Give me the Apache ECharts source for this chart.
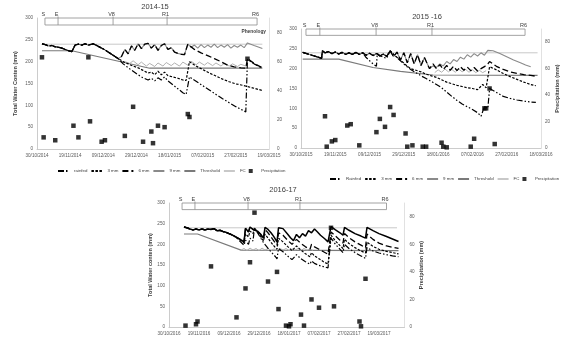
<!DOCTYPE html>
<html><head><meta charset="utf-8">
<script src="https://cdn.jsdelivr.net/npm/echarts@6/dist/echarts.min.js"></script>
<style>html,body{margin:0;padding:0;background:#fff}#c{width:566px;height:342px}</style>
</head><body><div id="c"></div>
<script>
// ---------- tick labels ----------
const dates1 = ['30/10/2014','19/11/2014','09/12/2014','29/12/2014','18/01/2015','07/02/2015','27/02/2015','19/03/2015'];
const dates2 = ['30/10/2015','19/11/2015','09/12/2015','29/12/2015','18/01/2016','07/02/2016','27/02/2016','18/03/2016'];
const dates3 = ['30/10/2016','19/11/2016','09/12/2016','29/12/2016','18/01/2017','07/02/2017','27/02/2017','19/03/2017'];
const titles = ['2014-15', '2015 -16', '2016-17'];
// phenology stages [label, day since 30/10]
const pheno1 = [['S',4.8],['E',12.7],['V8',45.9],['R1',78.5],['R6',132.8]];
const pheno2 = [['S',2.9],['E',11],['V8',43.8],['R1',76.4],['R6',130.7]];
const pheno3 = [['S',8.7],['E',17.3],['V8',52.7],['R1',87.3],['R6',145]];

// ---------- 2014-15 (x = days since 30/10/2014, y = mm) ----------
const common1 = [[3,241],[5,239],[7,236],[9,237],[11,234],[13,233],[15,231],[17,228],[19,225],[21,223],[23,238],[25,240],[27,238],[29,241],[31,238],[34,241],[37,235],[41,227],[45,217],[49,207]];
const upper1 = [[51,212],[53,228],[55,218],[57,236],[59,226],[61,241],[63,230],[65,240],[67,242],[69,231],[71,239],[73,226],[75,237],[77,241],[79,228],[81,232],[83,222],[85,219],[87,217],[89,216],[91,240]];
const mm9tail1 = [[93,233],[95,238],[97,231],[99,239],[101,232],[103,238],[105,233],[107,240],[109,232],[111,238],[113,233],[115,239],[117,231],[119,237],[121,233],[123,238],[125,232],[127,243],[131,237],[136,230]];
const mm6tail1 = [[95,228],[99,220],[103,214],[107,207],[111,200],[115,192],[119,188],[123,186],[126,185],[127,207],[131,196],[136,186]];
const mm3tail1 = [[52,200],[55,195],[58,190],[61,186],[64,180],[67,174],[69,176],[71,170],[73,178],[75,170],[77,176],[79,168],[82,165],[85,162],[88,158],[90,157],[92,200],[96,190],[100,182],[104,174],[108,167],[112,160],[116,154],[120,149],[124,146],[127,143],[130,140],[136,134]];
const rainfedtail1 = [[52,195],[55,186],[58,178],[61,170],[64,163],[67,158],[69,162],[71,156],[73,163],[75,158],[77,165],[79,156],[82,147],[85,138],[88,129],[90,125],[92,165],[96,155],[100,145],[104,135],[108,125],[112,115],[116,106],[120,97],[124,89],[126,85],[127,205],[131,195],[136,185]];
const thr1 = [[3,225],[21,225],[68,185],[136,185]];
const thrJag1 = [[53,200],[56,196],[58,202],[61,193],[63,199],[66,190],[68,196],[71,189],[73,197],[76,190],[78,198],[81,191],[83,197],[86,190],[88,199],[91,192],[93,201],[96,193],[98,199],[101,192],[103,198],[106,191],[108,197],[111,190],[113,196],[116,190],[118,195],[121,189],[123,194],[126,190]];
const fc1 = [[3,240],[136,240]];
const precip1 = [[3,63],[4,8],[11,6],[22,16],[25,8],[31,63],[32,19],[39,5],[41,6],[53,9],[58,29],[64,5],[69,12],[70,4],[73,16],[77,15],[91,24],[92,22],[127,62]];

// ---------- 2015-16 ----------
const commonA2 = [[1,241],[4,237],[7,233],[10,229],[12,226],[12.5,245],[14,240],[16,243],[18,238],[20,242],[22,237],[24,241],[26,236],[28,240],[30,236],[32,241],[34,236],[36,240]];
const commonB2 = [[38,234],[40,239],[42,233],[44,238],[46,232],[48,237],[50,231],[52,245]];
const upper2 = [[54,230],[56,242],[58,222],[60,240],[62,215],[64,238],[66,212],[68,235],[70,208],[72,228],[75,200]];
const mm9tail2 = [[77,207],[79,203],[81,212],[83,207],[85,218],[87,212],[89,223],[91,218],[93,229],[95,224],[97,235],[99,229],[101,238],[103,232],[105,240],[107,234],[109,246],[112,245],[116,238],[120,230],[124,222],[128,215],[131,209],[134,205]];
const mm6tail2 = [[77,212],[79,200],[81,210],[83,198],[85,208],[87,196],[89,206],[91,195],[93,205],[95,196],[97,204],[99,195],[101,203],[103,194],[105,200],[107,205],[109,212],[110,218],[114,206],[118,198],[122,192],[126,188],[130,185],[134,183],[137,181]];
const mm3tail2 = [[55,232],[58,222],[61,210],[64,200],[67,196],[70,192],[73,186],[76,182],[79,178],[82,172],[85,166],[88,162],[91,158],[94,155],[97,152],[100,150],[103,147],[104,145],[106,160],[108,152],[110,205],[114,197],[118,188],[122,180],[126,173],[130,166],[134,160],[137,157]];
const rainfedtail2 = [[38,228],[40,220],[42,212],[44,206],[44.5,238],[46,233],[48,229],[50,226],[52,245],[55,232],[58,220],[61,208],[64,198],[67,190],[70,182],[73,175],[76,168],[79,160],[82,152],[85,141],[88,130],[91,120],[94,111],[97,104],[100,97],[103,89],[105,80],[107,104],[109,100],[110,150],[114,140],[118,130],[122,125],[126,121],[130,118],[134,116],[137,115]];
const thr2 = [[1,224],[22,224],[42,203],[58,193],[77,184],[138,183]];
const thrJag2 = [[78,190],[80,197],[82,191],[84,199],[86,192],[88,198],[90,191],[92,199],[94,192],[96,198],[98,191],[100,197],[102,190],[104,196],[106,190],[108,195]];
const fc2 = [[1,240],[138,240]];
const precip2 = [[14,24],[15,1],[18,5],[20,6],[27,17],[29,18],[34,2],[44,12],[46,22],[49,16],[52,31],[54,25],[61,11],[62,1],[65,2],[71,1],[73,1],[82,4],[83,1],[85,0.5],[99,1],[101,7],[107,30],[108,30],[110,45],[113,3]];

// ---------- 2016-17 ----------
const common3 = [[10,242],[12,240],[14,237],[16,235],[18,237],[20,235],[22,237],[24,235],[26,237],[28,236],[30,238],[32,233],[34,234],[36,231],[38,229],[40,226],[42,223],[44,219]];
const mm9tail3 = [[46,215],[48,211],[50,206],[51,239],[53,230],[54,242],[56,236],[57,240],[59,232],[61,225],[63,215],[64,241],[66,236],[68,228],[70,218],[72,206],[73,240],[76,238],[79,225],[81,216],[83,209],[85,224],[87,216],[89,226],[91,220],[93,233],[95,228],[97,237],[99,230],[101,222],[104,213],[106,206],[108,243],[111,235],[114,228],[116,222],[117,241],[120,234],[124,226],[128,220],[131,215],[132,241],[136,233],[140,226],[145,219],[149,213],[153,207]];
const mm6tail3 = [[46,215],[48,211],[50,206],[51,239],[53,230],[54,242],[56,236],[57,240],[59,232],[61,224],[63,214],[64,236],[66,228],[68,218],[70,208],[72,198],[73,228],[76,222],[79,210],[82,200],[85,212],[88,202],[91,194],[94,188],[95,200],[97,194],[100,188],[103,182],[106,176],[108,230],[111,220],[114,210],[116,203],[117,226],[120,216],[124,206],[128,198],[131,192],[132,225],[136,212],[140,203],[145,196],[149,193],[153,190]];
const mm3tail3 = [[46,214],[48,209],[50,203],[51,225],[53,218],[54,232],[56,226],[57,240],[59,230],[61,220],[63,208],[64,225],[66,215],[68,205],[70,196],[72,188],[73,215],[76,206],[79,195],[82,185],[85,196],[88,186],[91,177],[94,170],[95,180],[97,172],[100,165],[103,158],[106,152],[108,222],[111,208],[114,197],[116,190],[117,212],[120,202],[124,192],[128,184],[131,179],[132,205],[136,195],[140,188],[145,183],[149,180],[153,177]];
const rainfedtail3 = [[46,212],[48,205],[50,198],[51,210],[53,200],[54,215],[56,208],[57,240],[59,228],[61,216],[63,204],[65,195],[67,186],[69,178],[71,170],[72,165],[73,190],[76,182],[79,172],[82,163],[85,175],[88,165],[91,158],[94,152],[95,160],[97,154],[100,149],[103,146],[106,143],[108,215],[111,200],[114,188],[116,180],[117,200],[120,190],[124,180],[128,172],[131,166],[132,192],[136,184],[140,179],[145,175],[149,172],[153,170]];
const thr3 = [[10,225],[19,225],[48,186],[153,185]];
const thrJag3 = [[48,186],[50,190],[52,185],[54,191],[56,186],[58,190],[60,185],[62,191],[64,186],[66,190],[68,185],[70,189],[72,184],[74,190],[76,186],[78,190],[80,185],[82,189],[84,186],[86,190],[88,185],[90,190],[92,186],[94,189],[96,185]];
const fc3 = [[10,240],[152,240]];
const precip3 = [[11,1],[18,2],[19,4],[28,44],[45,7],[51,28],[54,47],[57,83],[66,33],[72,40],[73,13],[78,1],[80,0.5],[81,2],[88,9],[90,1],[95,20],[100,14],[108,72],[110,15],[127,4],[128,0.5],[131,35]];

// ---------- chart ----------
const FONT = 'Liberation Sans';
const panels = [
  {dates: dates1, xmax: 140, pheno: pheno1, rainfedName: 'rainfed',
   grid: {left: 37, top: 18, width: 232, height: 131}, rMargin: 8, rName: '',
   lines: {rainfed: common1.concat(rainfedtail1), mm3: common1.concat(mm3tail1), mm6: common1.concat(upper1, mm6tail1), mm9: common1.concat(upper1, mm9tail1),
           thr: thr1, thrJag: thrJag1, fc: fc1, precip: precip1}, mm9color: '#8a8a8a', mm9w: 1.1},
  {dates: dates2, xmax: 140, pheno: pheno2, rainfedName: 'Rainfed',
   grid: {left: 301, top: 29, width: 240, height: 119}, rMargin: 4, rName: 'Precipitation (mm)', rGap: 13,
   lines: {rainfed: commonA2.concat(rainfedtail2), mm3: commonA2.concat(commonB2, mm3tail2), mm6: commonA2.concat(commonB2, upper2, mm6tail2), mm9: commonA2.concat(commonB2, upper2, mm9tail2),
           thr: thr2, thrJag: thrJag2, fc: fc2, precip: precip2}, mm9color: '#8a8a8a', mm9w: 1.1},
  {dates: dates3, xmax: 157, pheno: pheno3, rainfedName: 'Rainfed',
   grid: {left: 169, top: 203, width: 235.5, height: 124}, rMargin: 5, rName: 'Precipitation (mm)', rGap: 11,
   lines: {rainfed: common3.concat(rainfedtail3), mm3: common3.concat(mm3tail3), mm6: common3.concat(mm6tail3), mm9: common3.concat(mm9tail3),
           thr: thr3, thrJag: thrJag3, fc: fc3, precip: precip3}, mm9color: '#000', mm9w: 1.5}
];

const grids = [], xAxes = [], yAxes = [], series = [];
panels.forEach((p, i) => {
  grids.push(Object.assign({containLabel: false}, p.grid));
  xAxes.push({type: 'value', gridIndex: i, min: 0, max: p.xmax, interval: 20,
    axisLine: {lineStyle: {color: '#bfbfbf', width: 0.8}}, axisTick: {show: false}, splitLine: {show: false},
    axisLabel: {fontSize: 4.6, color: '#595959', fontFamily: FONT, margin: 4, showMaxLabel: p.xmax === 140,
      formatter: v => (v % 20 === 0 && p.dates[v / 20]) ? p.dates[v / 20] : ''}});
  yAxes.push({type: 'value', gridIndex: i, min: 0, max: 300, interval: 50, position: 'left',
    name: i === 1 ? '' : (i === 0 ? 'Total Water Conten (mm)' : 'Total Water conten (mm)'),
    nameLocation: 'middle', nameGap: i === 0 ? 19 : 15, nameRotate: 90,
    nameTextStyle: {fontSize: 5.5, fontWeight: 'bold', color: '#404040', fontFamily: FONT},
    axisLine: {show: true, lineStyle: {color: '#bfbfbf', width: 0.8}}, axisTick: {show: false}, splitLine: {show: false},
    axisLabel: {fontSize: 4.6, color: '#595959', fontFamily: FONT, margin: 4}});
  yAxes.push({type: 'value', gridIndex: i, min: 0, max: 90, interval: 20, position: 'right',
    name: p.rName, nameLocation: 'middle', nameGap: p.rGap || 10, nameRotate: 90,
    nameTextStyle: {fontSize: 5.5, fontWeight: 'bold', color: '#404040', fontFamily: FONT},
    axisLine: {show: true, lineStyle: {color: '#d9d9d9', width: 0.8}}, axisTick: {show: false}, splitLine: {show: false},
    axisLabel: {fontSize: 4.6, color: '#595959', fontFamily: FONT, margin: p.rMargin, showMaxLabel: false,
      formatter: v => (v % 20 === 0 ? v : '')}});
  const L = p.lines;
  const base = {type: 'line', xAxisIndex: i, yAxisIndex: 2 * i, symbol: 'none', silent: true, animation: false};
  const mk = (name, data, z, ls) => Object.assign({}, base, {name, data, z, lineStyle: ls, itemStyle: {color: ls.color}, color: ls.color});
  series.push(mk('FC', L.fc, 2, {color: '#c8c8c8', width: 1}));
  series.push(mk('Threshold', L.thr, 3, {color: '#7a7a7a', width: 1.2}));
  series.push(mk('Threshold', L.thrJag, 3, {color: '#a8a8a8', width: 0.9}));
  series.push(mk('9 mm', L.mm9, 4, {color: p.mm9color, width: p.mm9w}));
  series.push(mk('6 mm', L.mm6, 5, {color: '#000', width: 1.3, type: [6, 3]}));
  series.push(mk('3 mm', L.mm3, 5, {color: '#000', width: 1.2, type: [2.5, 1.5]}));
  series.push(mk(p.rainfedName, L.rainfed, 5, {color: '#000', width: 1.2, type: [6, 2, 1.5, 2, 1.5, 2]}));
  series.push({type: 'scatter', name: 'Precipitation', xAxisIndex: i, yAxisIndex: 2 * i + 1, data: L.precip,
    symbol: 'rect', symbolSize: 4.5, itemStyle: {color: '#000'}, color: '#000', z: 6, silent: true, animation: false});
  const stages = p.pheno;
  series.push({type: 'custom', xAxisIndex: i, yAxisIndex: 2 * i, silent: true, clip: false, z: 7, animation: false,
    data: [[stages[0][1], 300]],
    renderItem: (params, api) => {
      const top = api.coord([0, 300])[1], bot = api.coord([0, 284])[1];
      const xs = stages.map(s => api.coord([s[1], 0])[0]);
      const ch = [{type: 'rect', shape: {x: xs[0], y: top, width: xs[xs.length - 1] - xs[0], height: bot - top},
        style: {fill: '#fff', stroke: '#8c8c8c', lineWidth: 0.8}}];
      stages.forEach((s, k) => {
        if (k > 0 && k < stages.length - 1) ch.push({type: 'line', shape: {x1: xs[k], y1: top - 1.5, x2: xs[k], y2: bot}, style: {stroke: '#8c8c8c', lineWidth: 0.8}});
        ch.push({type: 'text', style: {x: xs[k] - 1.5, y: top - 1, text: s[0], textAlign: 'center', textVerticalAlign: 'bottom',
          fontSize: 5.5, fill: '#404040', fontFamily: FONT}});
      });
      return {type: 'group', children: ch};
    }});
});

const legendItems1 = ['rainfed', '3 mm', '6 mm', '9 mm', 'Threshold', 'FC', 'Precipitation'];
const legendItems2 = ['Rainfed', '3 mm', '6 mm', '9 mm', 'Threshold', 'FC', 'Precipitation'];
const legendData = names => names.map(n => n === 'Precipitation'
  ? {name: n, icon: 'path://M0,0h10v10h-10z'}
  : {name: n, itemStyle: {opacity: 0}});
const legendBase = {orient: 'horizontal', itemWidth: 11, itemHeight: 4, itemGap: 3, selectedMode: false, width: 260,
  textStyle: {fontSize: 4.4, color: '#404040', fontFamily: FONT}};

const chart = echarts.init(document.getElementById('c'), null, {renderer: 'canvas'});
chart.setOption({
  backgroundColor: '#fff',
  animation: false,
  grid: grids, xAxis: xAxes, yAxis: yAxes, series: series,
  legend: [
    Object.assign({}, legendBase, {left: 52, top: 164, data: legendData(legendItems1)}),
    Object.assign({}, legendBase, {left: 324, top: 172, data: legendData(legendItems2)})
  ],
  graphic: [
    {type: 'text', x: 155, y: 7, style: {text: titles[0], textAlign: 'center', textVerticalAlign: 'middle', fontSize: 7.5, fill: '#404040', fontFamily: FONT}},
    {type: 'text', x: 427, y: 17, style: {text: titles[1], textAlign: 'center', textVerticalAlign: 'middle', fontSize: 7.5, fill: '#404040', fontFamily: FONT}},
    {type: 'text', x: 283, y: 190, style: {text: titles[2], textAlign: 'center', textVerticalAlign: 'middle', fontSize: 7.5, fill: '#404040', fontFamily: FONT}},
    {type: 'text', x: 266, y: 32, style: {text: 'Phenology', textAlign: 'right', textVerticalAlign: 'middle', fontSize: 4.8, fontWeight: 'bold', fill: '#404040', fontFamily: FONT}}
  ]
});
</script></body></html>
